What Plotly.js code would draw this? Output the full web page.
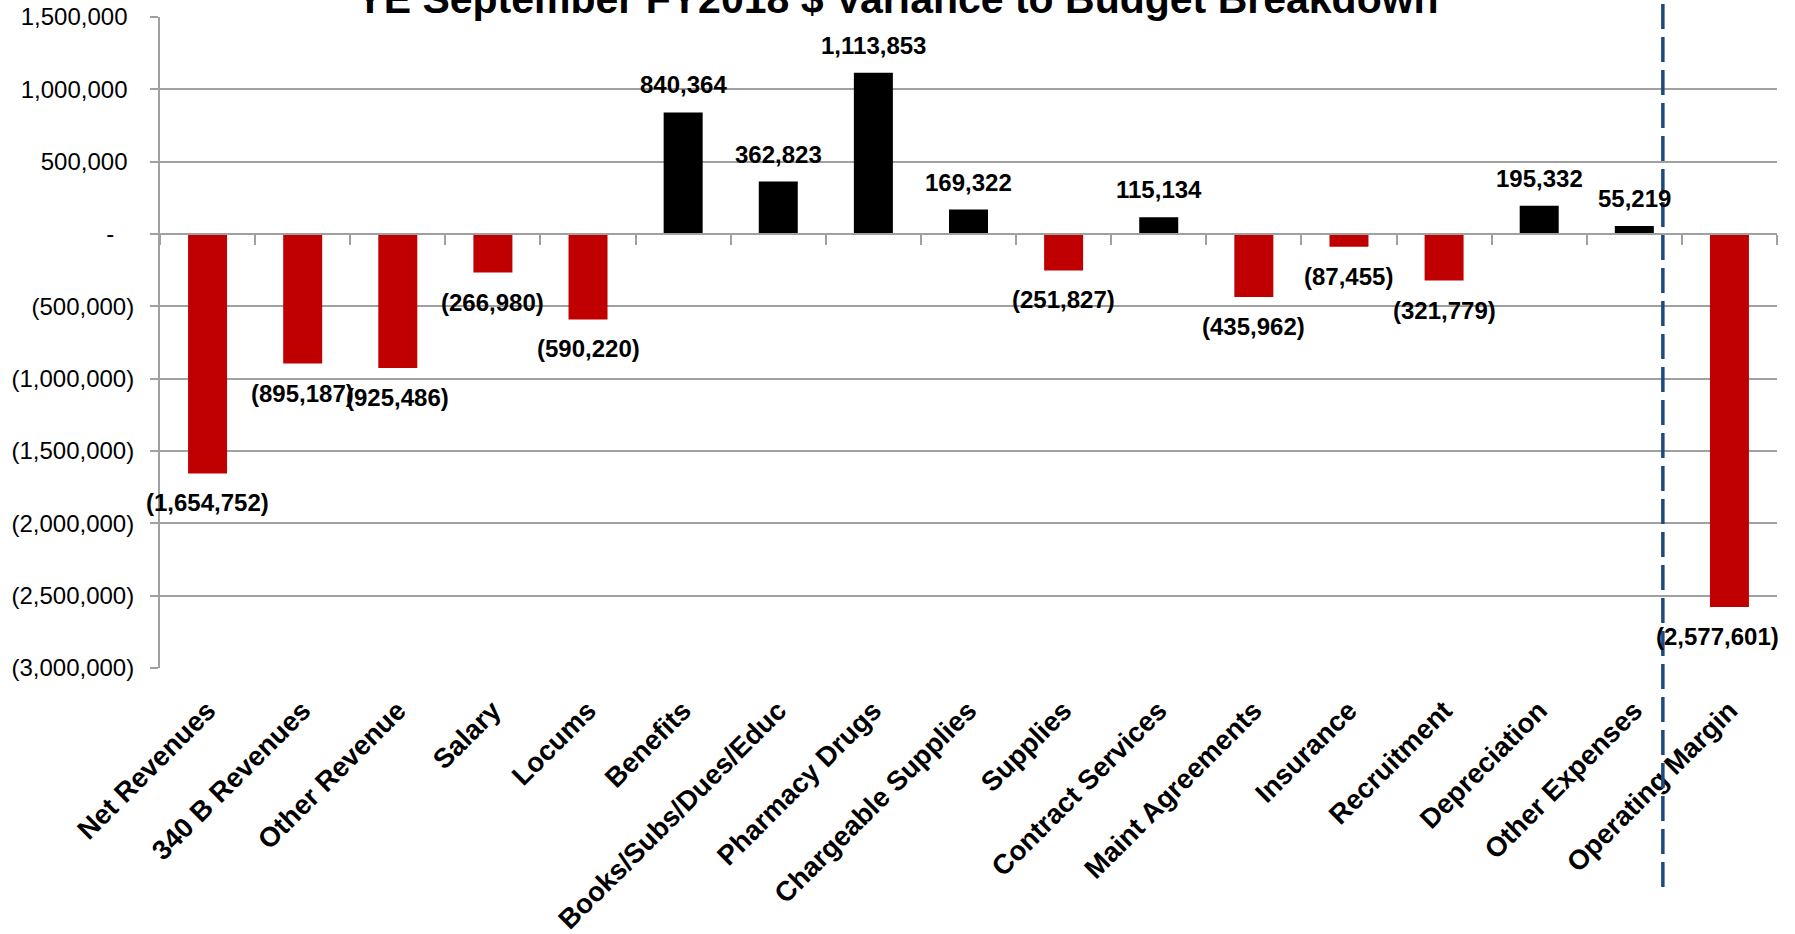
<!DOCTYPE html>
<html><head><meta charset="utf-8">
<script src="https://cdn.plot.ly/plotly-3.0.1.min.js"></script>
<style>html,body{margin:0;padding:0;background:#fff;} #chart{width:1795px;height:934px;}</style>
</head><body><div id="chart"></div>
<script>
const titleText = "YE September FY2018 $ Variance to Budget Breakdown";
const categories = ["Net Revenues","340 B Revenues","Other Revenue","Salary","Locums","Benefits","Books/Subs/Dues/Educ","Pharmacy Drugs","Chargeable Supplies","Supplies","Contract Services","Maint Agreements","Insurance","Recruitment","Depreciation","Other Expenses","Operating Margin"];
const variance = [-1654752,-895187,-925486,-266980,-590220,840364,362823,1113853,169322,-251827,115134,-435962,-87455,-321779,195332,55219,-2577601];
const yTickValues = [1500000,1000000,500000,0,-500000,-1000000,-1500000,-2000000,-2500000,-3000000];
const yTickLabels = ["1,500,000","1,000,000","500,000","-","(500,000)","(1,000,000)","(1,500,000)","(2,000,000)","(2,500,000)","(3,000,000)"];
const dividerPosition = 15.3;

const RED = "#C00000", BLACK = "#000000", GRID = "#A0A0A0";
const FONT = "Liberation Sans, Arial, sans-serif";

function fmt(v){ const s = Math.abs(v).toLocaleString('en-US'); return v < 0 ? "(" + s + ")" : s; }
function padTick(t, v){
  if (v === 0) return t + "\u00A0\u00A0\u00A0";
  if (v > 0) return t + "\u00A0";
  return t;
}

const bars = {
  type: 'bar', x: categories, y: variance, width: 0.41,
  marker: { color: variance.map(v => v < 0 ? RED : BLACK), line: {width: 0} },
  hoverinfo: 'x+y', showlegend: false
};
const axisHelper = { type: 'scatter', x: [], y: [], xaxis: 'x2', yaxis: 'y', showlegend: false, hoverinfo: 'skip' };

const boundaries = [];
for (let i = 0; i <= categories.length; i++) boundaries.push(i - 0.5);

// keep data labels inside the chart area (as the spreadsheet does)
const plotLeft = 160, plotW = 1617, chartRight = 1779, labelCharW = 11.1;
const annotations = categories.map((c, i) => {
  const v = variance[i];
  const txt = fmt(v);
  const center = plotLeft + (i + 0.5) * plotW / categories.length;
  const half = txt.length * labelCharW / 2;
  const xs = Math.min(0, chartRight - (center + half));
  return {
    x: c, y: v, xref: 'x', yref: 'y', text: txt, showarrow: false, xshift: xs,
    yanchor: v < 0 ? 'top' : 'bottom', yshift: v < 0 ? -14 : 12,
    font: { family: FONT, size: 24, color: '#000', weight: 700 }
  };
});

const layout = {
  width: 1795, height: 934,
  margin: { l: 160, r: 18, t: 17, b: 266, pad: 0 },
  paper_bgcolor: '#fff', plot_bgcolor: '#fff',
  title: { text: titleText, x: 0.5, xref: 'container', xanchor: 'center', y: 1 - 13/934, yref: 'container', yanchor: 'bottom',
           font: { family: FONT, size: 41, color: '#000', weight: 700 } },
  xaxis: { type: 'category', range: [-0.5, categories.length - 0.5], showgrid: false, zeroline: false, showline: false,
           ticks: '', tickangle: -45, automargin: false, ticklabelstandoff: 20,
           tickfont: { family: FONT, size: 27.5, color: '#000', weight: 700 } },
  xaxis2: { overlaying: 'x', anchor: 'free', position: 2/3, side: 'bottom', range: [-0.5, categories.length - 0.5],
            showgrid: false, zeroline: false, showline: true, linecolor: GRID, linewidth: 2,
            ticks: 'outside', ticklen: 10, tickwidth: 2, tickcolor: GRID, tickmode: 'array', tickvals: boundaries,
            showticklabels: false, automargin: false },
  yaxis: { range: [-3000000, 1500000], tickmode: 'array', tickvals: yTickValues, ticktext: yTickLabels.map((t, i) => padTick(t, yTickValues[i])),
           showgrid: true, gridcolor: GRID, gridwidth: 2, zeroline: false, showline: true, linecolor: GRID, linewidth: 2,
           ticks: 'outside', ticklen: 8, tickwidth: 2, tickcolor: GRID, ticklabelstandoff: 11, automargin: false,
           tickfont: { family: FONT, size: 24, color: '#000' } },
  annotations: annotations,
  shapes: [{ type: 'line', xref: 'x', yref: 'paper', x0: dividerPosition, x1: dividerPosition, y0: -219/651, y1: 1 + 17/651,
             line: { color: '#1F497D', width: 3.5, dash: '25px,8px' }, layer: 'above' }]
};

Plotly.newPlot('chart', [bars, axisHelper], layout, { displayModeBar: false, staticPlot: true });
</script></body></html>
